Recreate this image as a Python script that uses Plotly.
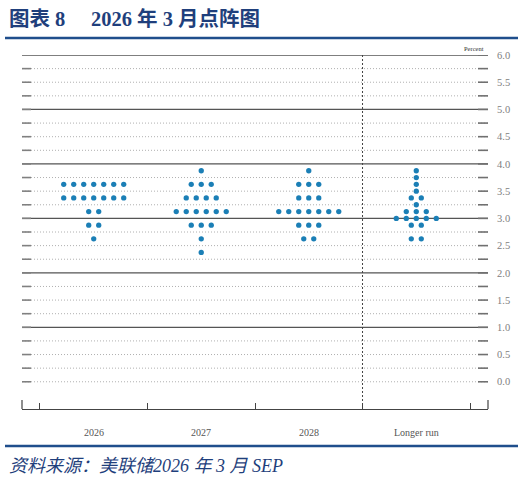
import plotly.graph_objects as go

# ---- data ----
categories = ["2026", "2027", "2028", "Longer run"]
rate_levels = [3.875, 3.75, 3.625, 3.5, 3.375, 3.25, 3.125, 3.0, 2.875, 2.625, 2.375]
counts_2026 = [0, 0, 7, 0, 7, 0, 2, 0, 2, 1, 0]
counts_2027 = [1, 0, 3, 0, 4, 0, 6, 0, 3, 1, 1]
counts_2028 = [1, 0, 3, 0, 3, 0, 7, 0, 3, 2, 0]
counts_longer = [1, 1, 1, 1, 2, 1, 3, 5, 2, 2, 0]
y_ticks = [0.0, 0.5, 1.0, 1.5, 2.0, 2.5, 3.0, 3.5, 4.0, 4.5, 5.0, 5.5, 6.0]
grid_levels = [i * 0.25 for i in range(25)]

title_text = "图表 8　 2026 年 3 月点阵图"
source_text = "资料来源：美联储2026 年 3 月 SEP"

W, H = 524, 481
ML, MR, MT, MB = 22, 36, 55, 72
XR = [-0.667, 3.667]
YR = [-0.5, 6.0]
plot_w = W - ML - MR
plot_h = H - MT - MB
unit_per_px = (XR[1] - XR[0]) / plot_w
dot_gap = 10 * unit_per_px

DOT = "#1b7fb6"
NAVY = "#1f3f7c"

xs, ys = [], []
for ci, counts in enumerate([counts_2026, counts_2027, counts_2028, counts_longer]):
    for lvl, n in zip(rate_levels, counts):
        for j in range(n):
            xs.append(ci + (j - (n - 1) / 2) * dot_gap)
            ys.append(lvl)

fig = go.Figure()
fig.add_trace(go.Scatter(x=xs, y=ys, mode="markers",
                         marker=dict(size=5.3, color=DOT, line=dict(width=0)),
                         hoverinfo="skip", showlegend=False))

shapes = []
for g in grid_levels:
    solid = abs(g - round(g)) < 1e-9 and g > 0
    shapes.append(dict(type="line", xref="paper", yref="y", x0=0, x1=1, y0=g, y1=g,
                       line=dict(color="#555555" if solid else "#b0b0b0",
                                 width=1.3 if solid else 1,
                                 dash="solid" if solid else "1px,2px"), layer="below"))
    shapes.append(dict(type="line", xref="paper", yref="y", x0=0, x1=9 / plot_w, y0=g, y1=g,
                       line=dict(color="#808080", width=1.6)))
    shapes.append(dict(type="line", xref="paper", yref="y", x0=1 - 10 / plot_w, x1=1, y0=g, y1=g,
                       line=dict(color="#707070", width=1.6)))
# divider
shapes.append(dict(type="line", xref="x", yref="y", x0=2.5, x1=2.5, y0=YR[0], y1=YR[1],
                   line=dict(color="#444444", width=1, dash="2px,2px")))
# end ticks of bottom axis
for xe in [0, 1]:
    shapes.append(dict(type="line", xref="paper", yref="paper", x0=xe, x1=xe, y0=0, y1=9 / plot_h,
                       line=dict(color="#444444", width=1.2)))
# blue rules
for ypx in [38, 446]:
    yy = (H - MB - ypx) / plot_h
    shapes.append(dict(type="line", xref="paper", yref="paper", x0=(5 - ML) / plot_w, x1=(518 - ML) / plot_w,
                       y0=yy, y1=yy, line=dict(color="#1f4e8c", width=2.5)))

annotations = []
for i, c in enumerate(categories):
    annotations.append(dict(x=i, y=0, xref="x", yref="paper", text=c, showarrow=False,
                            yanchor="middle", yshift=-23,
                            font=dict(family="Liberation Serif", size=10, color="#555555")))
annotations.append(dict(x=1, y=1, xref="paper", yref="paper", text="Percent", showarrow=False,
                        xanchor="right", yanchor="bottom", xshift=-2, yshift=1,
                        font=dict(family="Liberation Serif", size=6.5, color="#333333")))
annotations.append(dict(x=(7 - ML) / plot_w, y=(H - MB - 19) / plot_h, xref="paper", yref="paper",
                        text="<b>" + title_text + "</b>", showarrow=False, xanchor="left", yanchor="middle",
                        font=dict(family="Liberation Serif, Noto Sans CJK SC", size=20.5, color=NAVY)))
annotations.append(dict(x=(7 - ML) / plot_w, y=(H - MB - 466) / plot_h, xref="paper", yref="paper",
                        text="<i>" + source_text + "</i>", showarrow=False, xanchor="left", yanchor="middle",
                        font=dict(family="Liberation Serif, Noto Sans CJK SC", size=18, color=NAVY)))

fig.update_layout(
    width=W, height=H, margin=dict(l=ML, r=MR, t=MT, b=MB),
    paper_bgcolor="white", plot_bgcolor="white",
    shapes=shapes, annotations=annotations,
    xaxis=dict(range=XR, showgrid=False, zeroline=False, showline=True, linecolor="#444444", linewidth=1.2,
               tickvals=[-0.5, 0.5, 1.5, 2.5, 3.5], ticks="inside", ticklen=6, tickcolor="#444444",
               tickwidth=1.2, showticklabels=False, fixedrange=True),
    yaxis=dict(range=YR, side="right", showgrid=False, zeroline=False, showline=False,
               tickvals=y_ticks, ticktext=[f"{v:.1f}" for v in y_ticks], ticks="",
               ticklabelstandoff=8,
               tickfont=dict(family="Liberation Serif", size=10.5, color="#808080"), fixedrange=True),
)

fig.write_html("out.html")
